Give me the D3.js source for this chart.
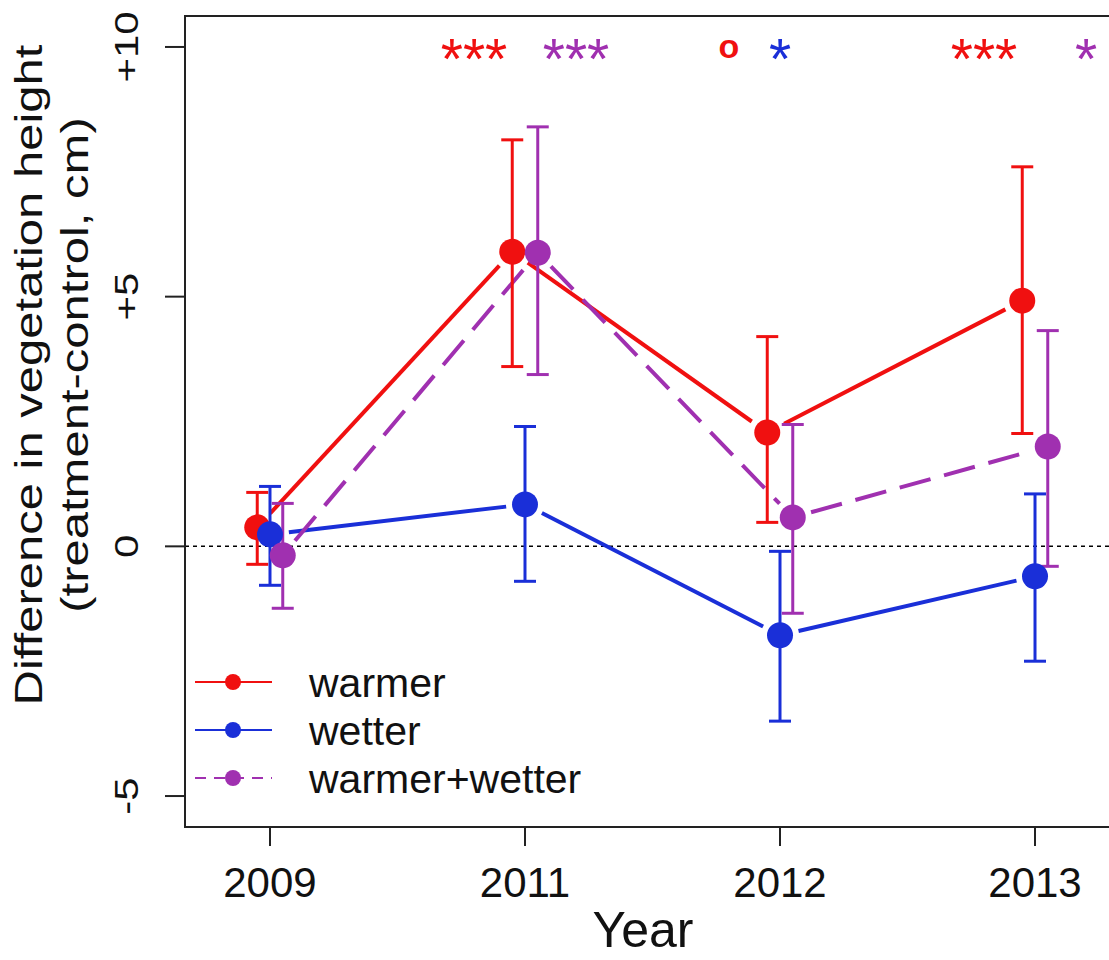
<!DOCTYPE html>
<html>
<head>
<meta charset="utf-8">
<script src="https://cdn.jsdelivr.net/npm/d3@7"></script>
<style>
  body { margin: 0; background: white; }
  text { font-family: 'Liberation Sans', Arial, sans-serif; }
</style>
</head>
<body>
<div id="chart"></div>
<script>
var years = ['2009', '2011', '2012', '2013']
var treatments = ['warmer', 'wetter', 'warmer+wetter']
var colors = ['#f01010', '#1a2fd8', '#a030b0']

// mean difference and interval ends, per treatment, per year
var means = [
  [0.38, 5.9, 2.28, 4.92],
  [0.24, 0.84, -1.78, -0.6],
  [-0.18, 5.88, 0.58, 2.0]
]
var lows = [
  [-0.36, 3.6, 0.48, 2.26],
  [-0.78, -0.7, -3.5, -2.3],
  [-1.24, 3.44, -1.34, -0.4]
]
var highs = [
  [1.08, 8.14, 4.2, 7.6],
  [1.2, 2.4, -0.1, 1.05],
  [0.86, 8.4, 2.44, 4.32]
]
// significance marks shown at the top, per treatment, per year
var marks = [
  ['', '***', 'o', '***'],
  ['', '', '*', ''],
  ['', '***', '', '*']
]
var yTicks = [-5, 0, 5, 10]
var yTickLabels = ['-5', '0', '+5', '+10']

var width = 1109
var height = 960
var margin = { top: 16, left: 185, bottom: 133 }

var svg = d3
  .select('#chart')
  .append('svg')
  .attr('width', width)
  .attr('height', height)

svg.append('rect').attr('width', width).attr('height', height).attr('fill', 'white')

var x = d3.scaleLinear().domain([0.6667, 4.3333]).range([margin.left, 1120])
var y = d3.scaleLinear().domain([-5.62, 10.62]).range([height - margin.bottom, margin.top])

var offsets = [-0.05, 0, 0.05]
var markOffsets = [-0.2, 0, 0.2]

// zero reference line
svg.append('line')
  .attr('x1', x.range()[0]).attr('x2', x.range()[1])
  .attr('y1', y(0)).attr('y2', y(0))
  .attr('stroke', 'black')
  .attr('stroke-width', 1.5)
  .attr('stroke-dasharray', '4,4')

var series = treatments.map(function(t, i) {
  return years.map(function(yr, j) {
    return { i: i, px: x(j + 1 + offsets[i]), mean: means[i][j], lo: lows[i][j], hi: highs[i][j] }
  })
})

// lines, drawn like R type = "b" (gaps round the points)
var gap = 19
series.forEach(function(pts, i) {
  for (var k = 0; k < pts.length - 1; k++) {
    var x1 = pts[k].px, y1 = y(pts[k].mean)
    var x2 = pts[k + 1].px, y2 = y(pts[k + 1].mean)
    var len = Math.sqrt((x2 - x1) * (x2 - x1) + (y2 - y1) * (y2 - y1))
    var ux = (x2 - x1) / len, uy = (y2 - y1) / len
    svg.append('line')
      .attr('x1', x1 + ux * gap).attr('y1', y1 + uy * gap)
      .attr('x2', x2 - ux * gap).attr('y2', y2 - uy * gap)
      .attr('stroke', colors[i])
      .attr('stroke-width', 4)
      .attr('stroke-dasharray', i === 2 ? '32,14' : null)
  }
})

// error bars
series.forEach(function(pts, i) {
  var g = svg.append('g').attr('stroke', colors[i]).attr('stroke-width', 3)
  g.selectAll('.stem').data(pts).enter().append('line')
    .attr('x1', d => d.px).attr('x2', d => d.px)
    .attr('y1', d => y(d.lo)).attr('y2', d => y(d.hi))
  g.selectAll('.caplo').data(pts).enter().append('line')
    .attr('x1', d => d.px - 11).attr('x2', d => d.px + 11)
    .attr('y1', d => y(d.lo)).attr('y2', d => y(d.lo))
  g.selectAll('.caphi').data(pts).enter().append('line')
    .attr('x1', d => d.px - 11).attr('x2', d => d.px + 11)
    .attr('y1', d => y(d.hi)).attr('y2', d => y(d.hi))
})

// points
series.forEach(function(pts, i) {
  svg.selectAll('.pt' + i).data(pts).enter().append('circle')
    .attr('cx', d => d.px)
    .attr('cy', d => y(d.mean))
    .attr('r', 13)
    .attr('fill', colors[i])
})

// significance marks along the top
marks.forEach(function(row, i) {
  row.forEach(function(m, j) {
    if (!m) return
    var isStar = m.indexOf('*') >= 0
    svg.append('text')
      .attr('x', x(j + 1 + markOffsets[i]))
      .attr('y', isStar ? y(10) + 32 : y(10) + 11)
      .attr('text-anchor', 'middle')
      .attr('fill', colors[i])
      .attr('font-size', isStar ? 57 : 34)
      .attr('font-weight', isStar ? 'normal' : 'bold')
      .text(m)
  })
})

// plot box (right side falls outside the picture)
svg.append('rect')
  .attr('x', x.range()[0]).attr('y', margin.top)
  .attr('width', x.range()[1] - x.range()[0])
  .attr('height', y.range()[0] - margin.top)
  .attr('fill', 'none')
  .attr('stroke', '#222')
  .attr('stroke-width', 2)

// x axis
var xAxis = svg.append('g')
years.forEach(function(yr, j) {
  xAxis.append('line')
    .attr('x1', x(j + 1)).attr('x2', x(j + 1))
    .attr('y1', y.range()[0]).attr('y2', y.range()[0] + 19)
    .attr('stroke', '#222').attr('stroke-width', 2)
  xAxis.append('text')
    .attr('x', x(j + 1)).attr('y', 897)
    .attr('text-anchor', 'middle')
    .attr('font-size', 42)
    .attr('fill', '#111')
    .text(yr)
})

// y axis, labels turned like R's default
var yAxis = svg.append('g')
yTicks.forEach(function(t, k) {
  yAxis.append('line')
    .attr('x1', x.range()[0] - 20).attr('x2', x.range()[0])
    .attr('y1', y(t)).attr('y2', y(t))
    .attr('stroke', '#222').attr('stroke-width', 2)
  yAxis.append('text')
    .attr('transform', 'translate(138,' + y(t) + ') rotate(-90) scale(1,0.78)')
    .attr('text-anchor', 'middle')
    .attr('font-size', 42)
    .attr('fill', '#111')
    .text(yTickLabels[k])
})

// axis titles
svg.append('text')
  .attr('transform', 'translate(42,375) rotate(-90) scale(1,0.8)')
  .attr('text-anchor', 'middle')
  .attr('font-size', 49)
  .attr('fill', '#111')
  .text('Difference in vegetation height')
svg.append('text')
  .attr('transform', 'translate(88,365) rotate(-90) scale(1,0.8)')
  .attr('text-anchor', 'middle')
  .attr('font-size', 49)
  .attr('fill', '#111')
  .text('(treatment-control, cm)')
svg.append('text')
  .attr('x', 643).attr('y', 947)
  .attr('text-anchor', 'middle')
  .attr('font-size', 50)
  .attr('fill', '#111')
  .text('Year')

// legend
var legend = svg.append('g')
treatments.forEach(function(t, i) {
  var ly = 682 + i * 48
  legend.append('line')
    .attr('x1', 195).attr('x2', 272)
    .attr('y1', ly).attr('y2', ly)
    .attr('stroke', colors[i])
    .attr('stroke-width', 2)
    .attr('stroke-dasharray', i === 2 ? '11,8' : null)
  legend.append('circle')
    .attr('cx', 233).attr('cy', ly).attr('r', 8)
    .attr('fill', colors[i])
  legend.append('text')
    .attr('x', 309).attr('y', ly + 15)
    .attr('font-size', 41)
    .attr('fill', '#111')
    .text(t)
})
</script>
</body>
</html>
